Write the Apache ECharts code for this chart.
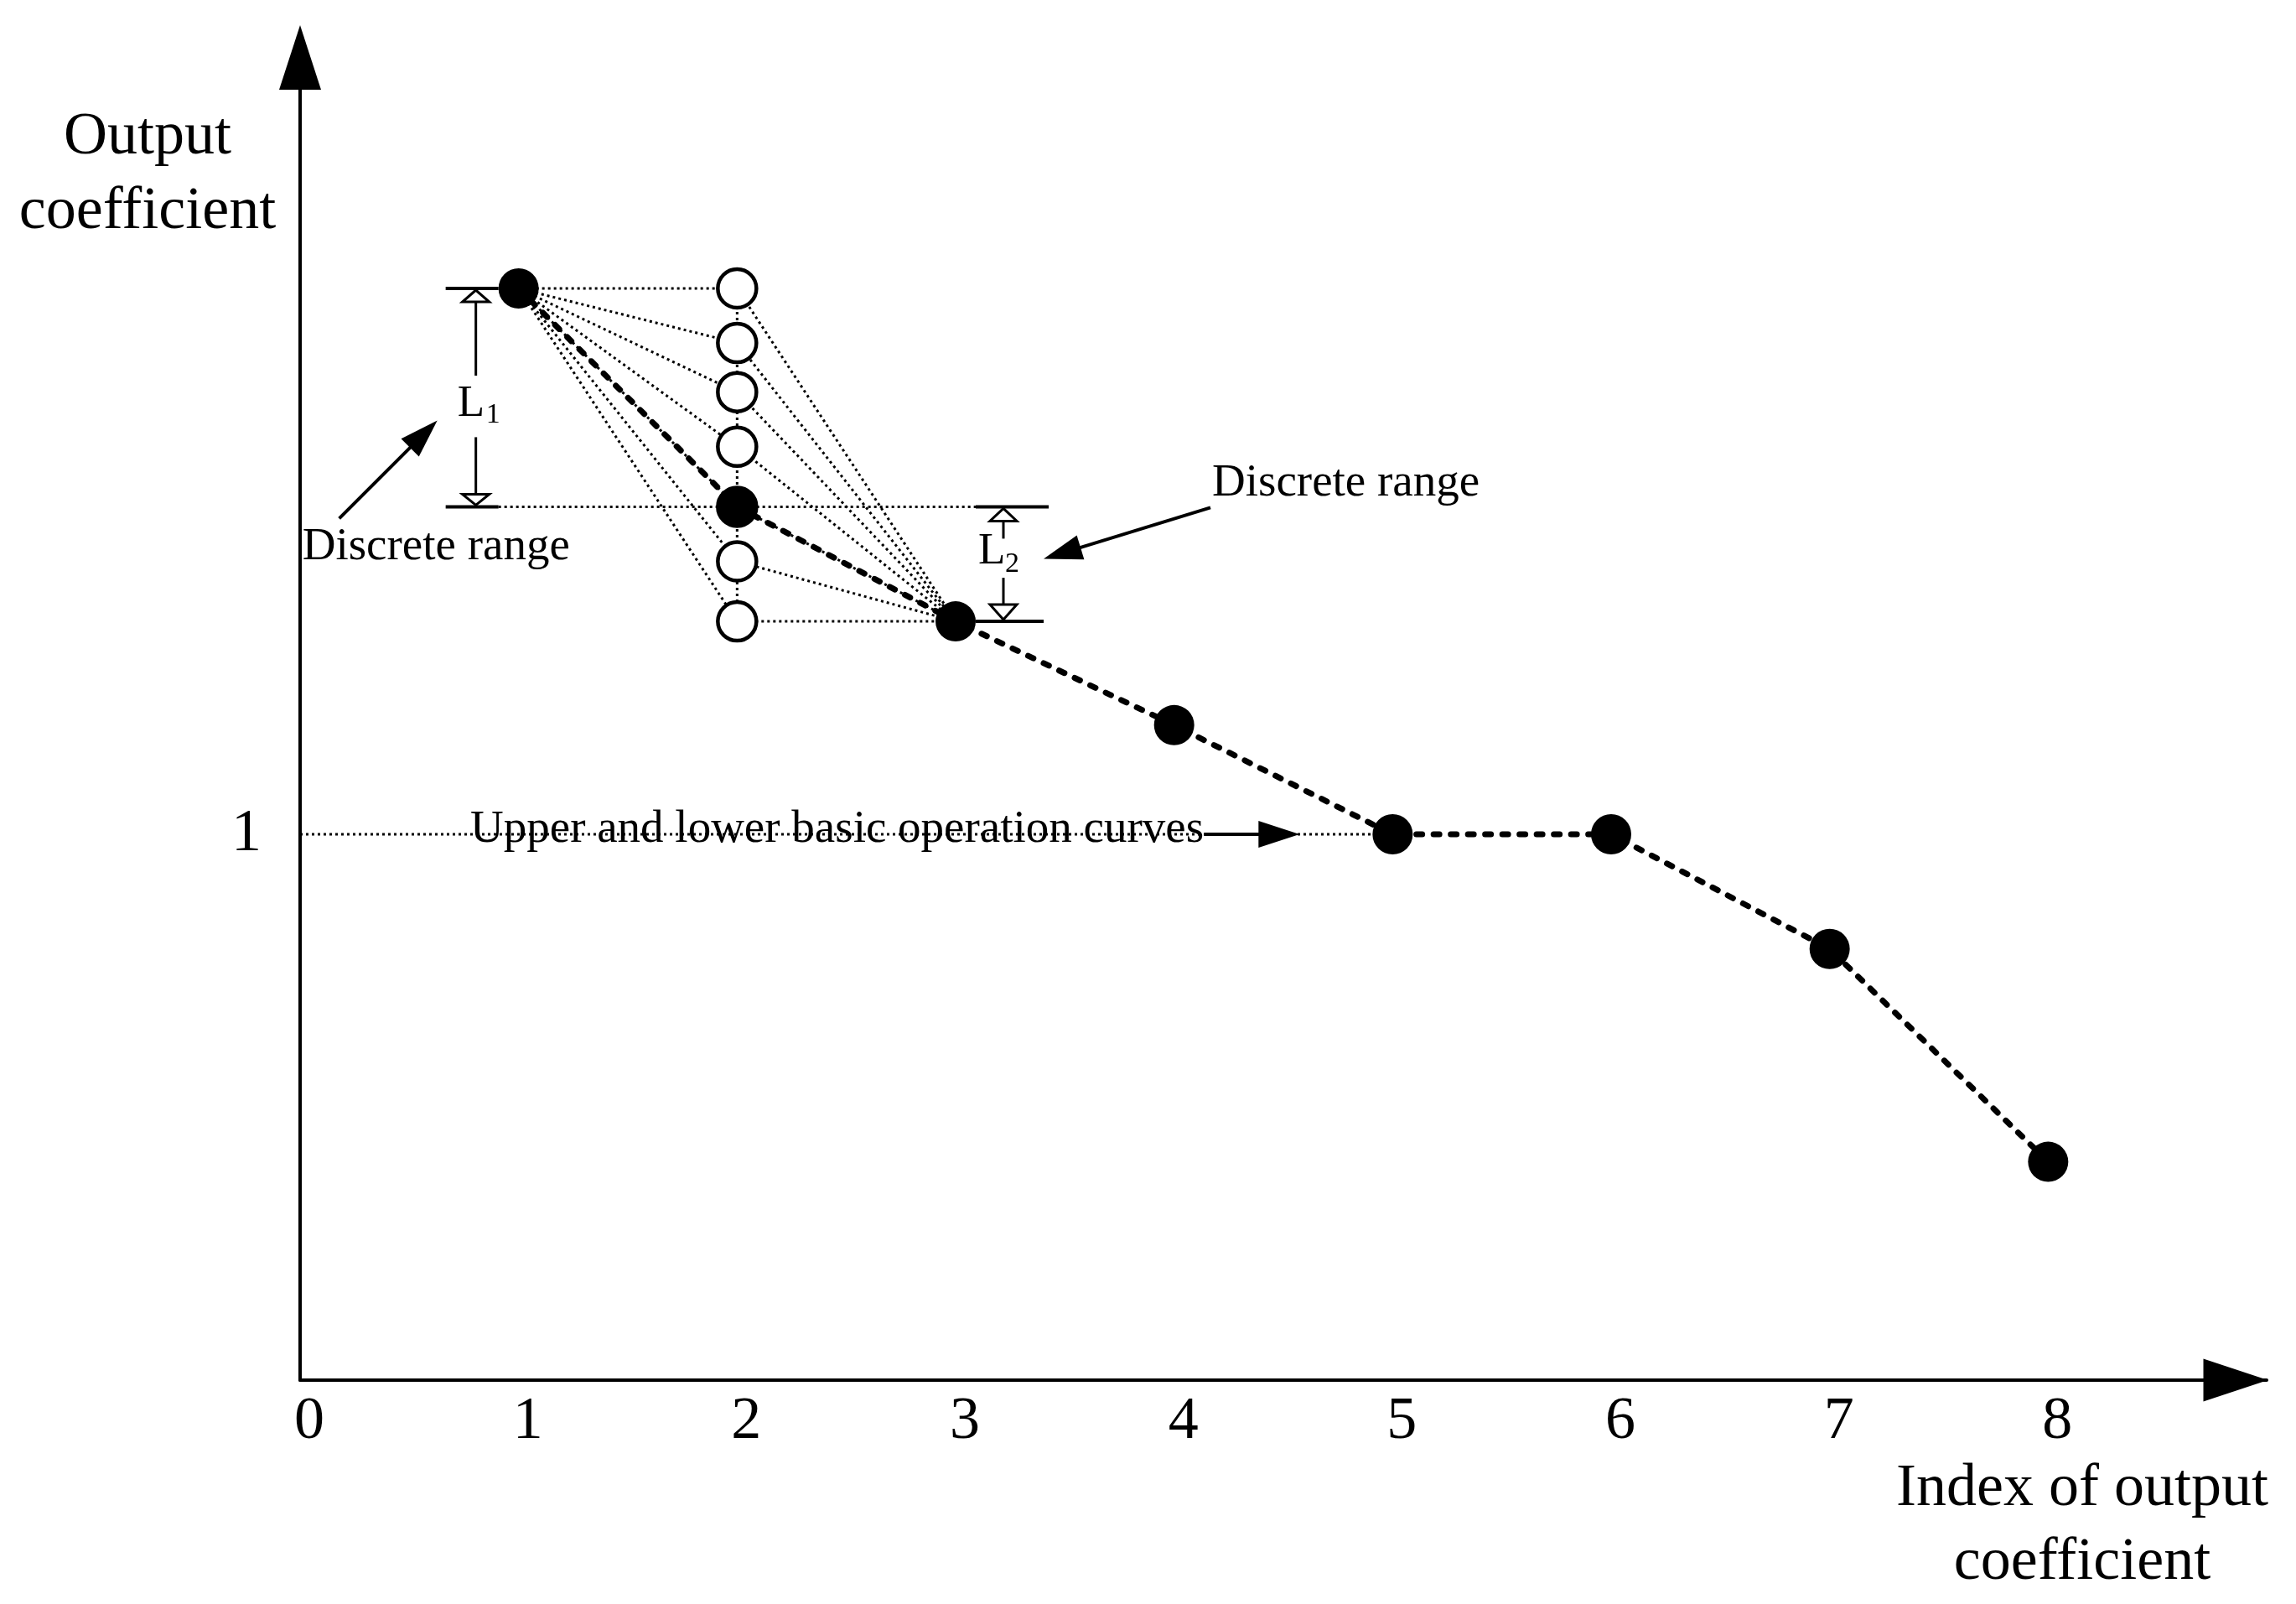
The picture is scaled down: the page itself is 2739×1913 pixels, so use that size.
<!DOCTYPE html>
<html>
<head>
<meta charset="utf-8">
<title>Output coefficient</title>
<script src="https://cdn.jsdelivr.net/npm/echarts@6/dist/echarts.min.js"></script>
<style>
  html, body { margin: 0; padding: 0; background: #fff; }
  #chart { width: 2739px; height: 1913px; }
</style>
</head>
<body>
<div id="chart"></div>
<script>
// index of output coefficient
var xIndex = [1, 2, 3, 4, 5, 6, 7, 8];
// chosen output coefficients (black dots, dashed curve)
var curve = [2.0, 1.6, 1.39, 1.2, 1.0, 1.0, 0.79, 0.4];
// discrete candidates at index 2 (open circles)
var candIndex = 2;
var candidates = [2.0, 1.9, 1.81, 1.71, 1.6, 1.5, 1.39];
// basic operation curve level
var baseLevel = 1;
var xTicks = ['0', '1', '2', '3', '4', '5', '6', '7', '8'];
var yTicks = ['1'];

var FONT = '"Liberation Serif", "Times New Roman", serif';
var chart = echarts.init(document.getElementById('chart'));

// thin dotted fan lines: index 1 -> each candidate -> index 3
var fan = candidates.map(function (c) {
  return { coords: [[xIndex[0], curve[0]], [candIndex, c], [xIndex[2], curve[2]]] };
});
fan.push({ coords: [[candIndex, candidates[0]], [candIndex, candidates[candidates.length - 1]]] });
fan.push({ coords: [[0, baseLevel], [xIndex[4], baseLevel]] });

chart.setOption({
  animation: false,
  backgroundColor: '#fff',
  grid: { left: 358, right: 35, top: 83.6, bottom: 267, containLabel: false, outerBoundsMode: 'none' },
  xAxis: {
    type: 'value', min: 0, max: 9, interval: 1,
    axisLine: {
      lineStyle: { color: '#000', width: 4 },
      symbol: ['none', 'triangle'], symbolSize: [51, 77], symbolOffset: [0, -37]
    },
    axisTick: { show: false },
    splitLine: { show: false },
    axisLabel: {
      color: '#000', fontFamily: FONT, fontSize: 72, margin: 14, padding: [0, 0, 0, 22],
      formatter: function (v) { return xTicks[v] || ''; }
    }
  },
  yAxis: {
    type: 'value', min: 0, max: 2.4, interval: 1,
    axisLine: {
      lineStyle: { color: '#000', width: 4 },
      symbol: ['none', 'triangle'], symbolSize: [50, 77], symbolOffset: [0, 15]
    },
    axisTick: { show: false },
    splitLine: { show: false },
    axisLabel: {
      color: '#000', fontFamily: FONT, fontSize: 72, margin: 46,
      formatter: function (v) { return yTicks.indexOf(String(v)) >= 0 ? String(v) : ''; }
    }
  },
  series: [
    {
      type: 'lines', coordinateSystem: 'cartesian2d', polyline: true, silent: true, z: 1,
      lineStyle: { color: '#000', width: 3, type: [3, 4], opacity: 1, curveness: 0 },
      data: fan
    },
    {
      type: 'scatter', z: 3, silent: true, symbol: 'circle', symbolSize: 46,
      itemStyle: { color: '#fff', borderColor: '#000', borderWidth: 4.5, opacity: 1 },
      data: candidates.map(function (c) { return [candIndex, c]; })
    },
    {
      type: 'line', z: 4, silent: true, symbol: 'circle', symbolSize: 48, showAllSymbol: true,
      itemStyle: { color: '#000', borderWidth: 0 },
      lineStyle: { color: '#000', width: 7, type: [7, 13.5], cap: 'round' },
      data: xIndex.map(function (x, i) { return [x, curve[i]]; })
    }
  ]
});

function toPx(x, y) { return chart.convertToPixel({ gridIndex: 0 }, [x, y]); }
function seg(x1, y1, x2, y2, w, dash) {
  return { type: 'line', silent: true, z: 10, shape: { x1: x1, y1: y1, x2: x2, y2: y2 },
    style: { stroke: '#000', lineWidth: w, lineDash: dash || null } };
}
function tri(points, fill) {
  return { type: 'polygon', silent: true, z: 10, shape: { points: points },
    style: { fill: fill, stroke: '#000', lineWidth: fill === '#fff' ? 3 : 0 } };
}
function label(text, x, y, size, align) {
  return { type: 'text', silent: true, z: 10, x: x, y: y,
    style: { text: text, fill: '#000', fontFamily: FONT, fontSize: size, align: align || 'left', verticalAlign: 'middle' } };
}
function arrow(x1, y1, x2, y2, headLen, headW) {
  var dx = x2 - x1, dy = y2 - y1, len = Math.sqrt(dx * dx + dy * dy);
  var ux = dx / len, uy = dy / len;
  var bx = x2 - ux * headLen, by = y2 - uy * headLen;
  var px = -uy * headW / 2, py = ux * headW / 2;
  return [
    seg(x1, y1, bx + ux * 4, by + uy * 4, 4),
    tri([[x2, y2], [bx + px, by + py], [bx - px, by - py]], '#000')
  ];
}

var P1 = toPx(xIndex[0], curve[0]);
var P2 = toPx(xIndex[1], curve[1]);
var P3 = toPx(xIndex[2], curve[2]);
var P5 = toPx(xIndex[4], curve[4]);
var B0 = toPx(0, baseLevel);

var els = [];
// L1 range bracket
var xL1 = P1[0] - 51, mid1 = (P1[1] + P2[1]) / 2;
els.push(seg(P1[0] - 87, P1[1], P1[0] - 24, P1[1], 4));
els.push(seg(P1[0] - 87, P2[1], P1[0] - 24, P2[1], 4));
els.push(tri([[xL1, P1[1] + 2], [xL1 - 16, P1[1] + 16], [xL1 + 16, P1[1] + 16]], '#fff'));
els.push(seg(xL1, P1[1] + 16, xL1, P1[1] + 104, 3));
els.push(seg(xL1, P2[1] - 83, xL1, P2[1] - 15, 3));
els.push(tri([[xL1 - 16, P2[1] - 15], [xL1 + 16, P2[1] - 15], [xL1, P2[1] - 2]], '#fff'));
els.push(label('L', xL1 - 22, mid1 + 7.5, 53));
els.push(label('1', xL1 + 12, mid1 + 21, 34));
// dotted level of chosen point 2
els.push(seg(P1[0] - 24, P2[1], P3[0] + 24, P2[1], 3, [3, 4]));
// L2 range bracket
var xL2 = P3[0] + 57, mid2 = (P2[1] + P3[1]) / 2;
els.push(seg(P3[0] + 24, P2[1], P3[0] + 111, P2[1], 4));
els.push(seg(P3[0] + 24, P3[1], P3[0] + 105, P3[1], 4));
els.push(tri([[xL2, P2[1] + 2], [xL2 - 16, P2[1] + 17], [xL2 + 16, P2[1] + 17]], '#fff'));
els.push(seg(xL2, P2[1] + 17, xL2, P2[1] + 38, 3));
els.push(seg(xL2, P3[1] - 52, xL2, P3[1] - 20, 3));
els.push(tri([[xL2 - 16, P3[1] - 20], [xL2 + 16, P3[1] - 20], [xL2, P3[1] - 2]], '#fff'));
els.push(label('L', xL2 - 30, mid2 - 14.5, 53));
els.push(label('2', xL2 + 2, mid2, 34));
// discrete range notes
els.push(label('Discrete range', P1[0] - 258, P2[1] + 48, 55));
els = els.concat(arrow(P1[0] - 214, P2[1] + 14, P1[0] - 97, P2[1] - 103, 46, 30));
els.push(label('Discrete range', P3[0] + 306, P2[1] - 28, 55));
els = els.concat(arrow(P3[0] + 304, P2[1] + 1, P3[0] + 105, P2[1] + 62, 46, 30));
// basic operation curves note
els.push(label('Upper and lower basic operation curves', B0[0] + 203, B0[1] - 5, 55));
els = els.concat(arrow(P5[0] - 225, B0[1], P5[0] - 111, B0[1], 49, 32));
// axis names
els.push(label('Output', 176, 164, 72, 'center'));
els.push(label('coefficient', 176, 253, 72, 'center'));
els.push(label('Index of output', 2484, 1776, 72, 'center'));
els.push(label('coefficient', 2484, 1864, 72, 'center'));

chart.setOption({ graphic: { elements: els } });
</script>
</body>
</html>
